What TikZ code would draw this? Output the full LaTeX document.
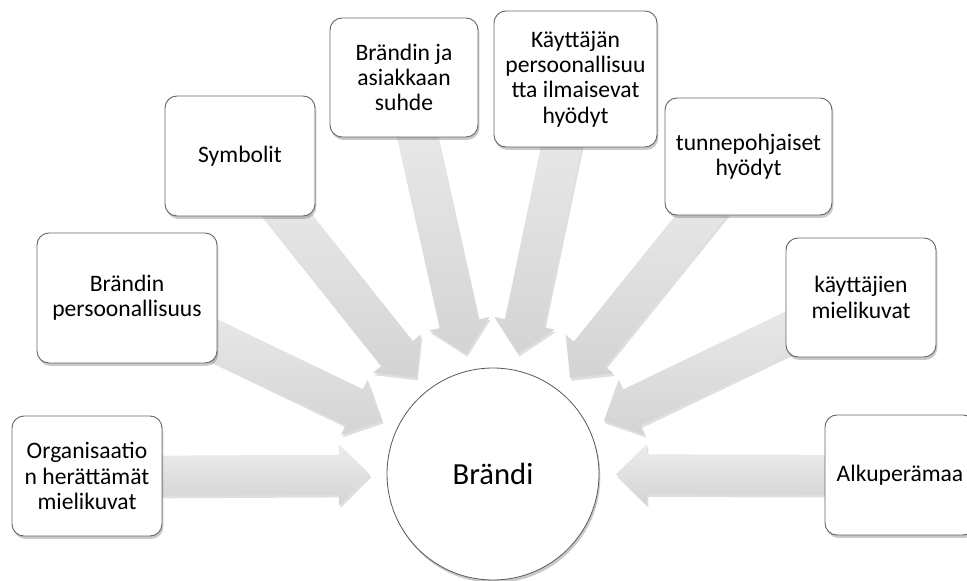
\documentclass[tikz,border=0pt]{standalone}
\usepackage{fontspec}
\setmainfont{Carlito}
\usetikzlibrary{calc,shadows,backgrounds}

% wide block arrow from a box toward the central circle
\newcommand\inflow[1]{%
  \coordinate (hb) at ($(core.center)!115.5pt!(#1.center)$);
  \coordinate (tp) at ($(core.center)!92.25pt!(#1.center)$);
  \path[flow] ($(#1.center)!15pt!90:(core.center)$)
     -- ($(hb)!15pt!90:(core.center)$)
     -- ($(hb)!23pt!90:(core.center)$)
     -- (tp)
     -- ($(hb)!23pt!-90:(core.center)$)
     -- ($(hb)!15pt!-90:(core.center)$)
     -- ($(#1.center)!15pt!-90:(core.center)$) -- cycle;}

\begin{document}
\begin{tikzpicture}[x=0.75pt,y=-0.75pt,
  softshadow/.style={drop shadow={shadow xshift=1pt, shadow yshift=-2.2pt,
      opacity=0.35, fill=black!60}},
  box/.style 2 args={draw=black!60, line width=0.7pt, rounded corners=9pt,
      fill=white, align=center, inner sep=0pt, softshadow,
      minimum width=#1*0.75pt, minimum height=#2*0.75pt,
      font=\fontsize{17.7pt}{19pt}\selectfont},
  core/.style={circle, draw=black!65, line width=0.6pt, fill=white,
      minimum size=212*0.75pt, inner sep=0pt, softshadow,
      font=\fontsize{23pt}{26pt}\selectfont},
  flow/.style={top color=black!7, bottom color=black!17,
      drop shadow={shadow xshift=1pt, shadow yshift=-2pt, opacity=0.25, fill=black!50}}]

\useasboundingbox (0,0) rectangle (967,581);

% centre
\node[core] (core) at (493,474) {Brändi};

% surrounding factors
\node[box={150}{120}] (org)  at (87,476)    {Organisaatio\\n herättämät\\mielikuvat};
\node[box={180}{130}] (pers) at (127,298)   {Brändin\\persoonallisuus};
\node[box={150}{120}] (sym)  at (240,156)   {Symbolit};
\node[box={148}{119}] (rel)  at (404,77.5)  {Brändin ja\\asiakkaan\\suhde};
\node[box={163}{136}] (expr) at (575.5,79)  {Käyttäjän\\persoonallisuu\\tta ilmaisevat\\hyödyt};
\node[box={167}{117}] (emo)  at (748.5,156.5) {tunnepohjaiset\\hyödyt};
\node[box={150}{119}] (user) at (861,297.5) {käyttäjien\\mielikuvat};
\node[box={150}{120}] (orig) at (900,475)   {Alkuperämaa};

\begin{scope}[on background layer]
  \fill[white] (0,0) rectangle (967,581);
  \inflow{org}
  \inflow{pers}
  \inflow{sym}
  \inflow{rel}
  \inflow{expr}
  \inflow{emo}
  \inflow{user}
  \inflow{orig}
\end{scope}
\end{tikzpicture}
\end{document}
